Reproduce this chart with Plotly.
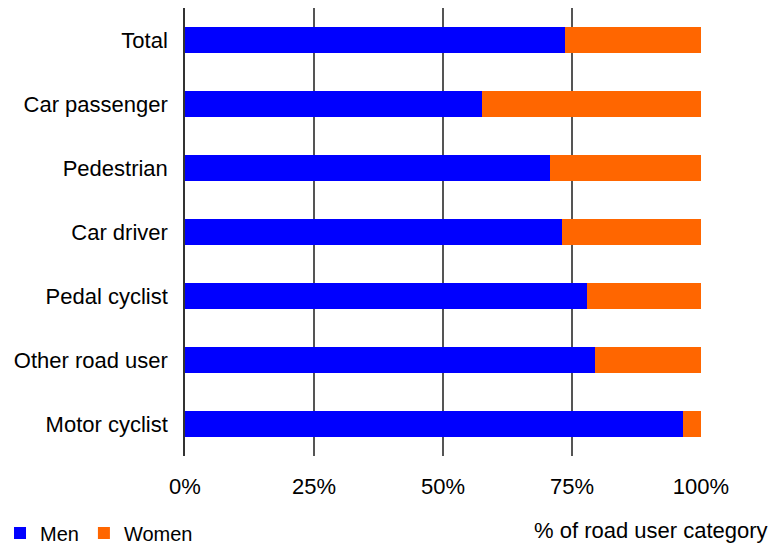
import plotly.graph_objects as go

categories = ["Total", "Car passenger", "Pedestrian", "Car driver", "Pedal cyclist", "Other road user", "Motor cyclist"]
men = [73.6, 57.6, 70.8, 73.1, 77.9, 79.5, 96.5]
women = [round(100 - m, 1) for m in men]
tick_vals = [0, 25, 50, 75, 100]
tick_text = ["0%", "25%", "50%", "75%", "100%"]

fig = go.Figure()
fig.add_trace(go.Bar(y=categories, x=men, name="Men", orientation="h", marker=dict(color="#0000FF", line_width=0)))
fig.add_trace(go.Bar(y=categories, x=women, name="Women", orientation="h", marker=dict(color="#FF6600", line_width=0)))

fig.update_layout(
    width=771, height=547,
    barmode="stack", bargap=0.58,
    paper_bgcolor="white", plot_bgcolor="white",
    margin=dict(l=185, r=70, t=8, b=91, autoexpand=False),
    font=dict(family="Liberation Sans, Arial, sans-serif", size=22, color="black"),
    showlegend=True,
    legend=dict(orientation="h", x=-0.3585, xanchor="left", y=-0.172, yanchor="middle",
                traceorder="normal", font=dict(size=20), itemwidth=30, tracegroupgap=0),
)
fig.update_xaxes(range=[0, 100], tickvals=tick_vals, ticktext=tick_text,
                 showgrid=True, gridcolor="#555555", gridwidth=1.5,
                 zeroline=False, showline=False, ticks="", ticklabelstandoff=15)
fig.update_yaxes(autorange="reversed", showline=True, linecolor="#333333", linewidth=1.5,
                 ticks="", showgrid=False, ticklabelstandoff=11)
fig.add_annotation(text="% of road user category", xref="paper", yref="paper",
                   x=1.134, y=-0.167, xanchor="right", yanchor="middle", showarrow=False,
                   font=dict(size=22))
fig.write_html("out.html", config={"displayModeBar": False},
               post_script="document.body.style.margin='0';document.body.style.padding='0';")
